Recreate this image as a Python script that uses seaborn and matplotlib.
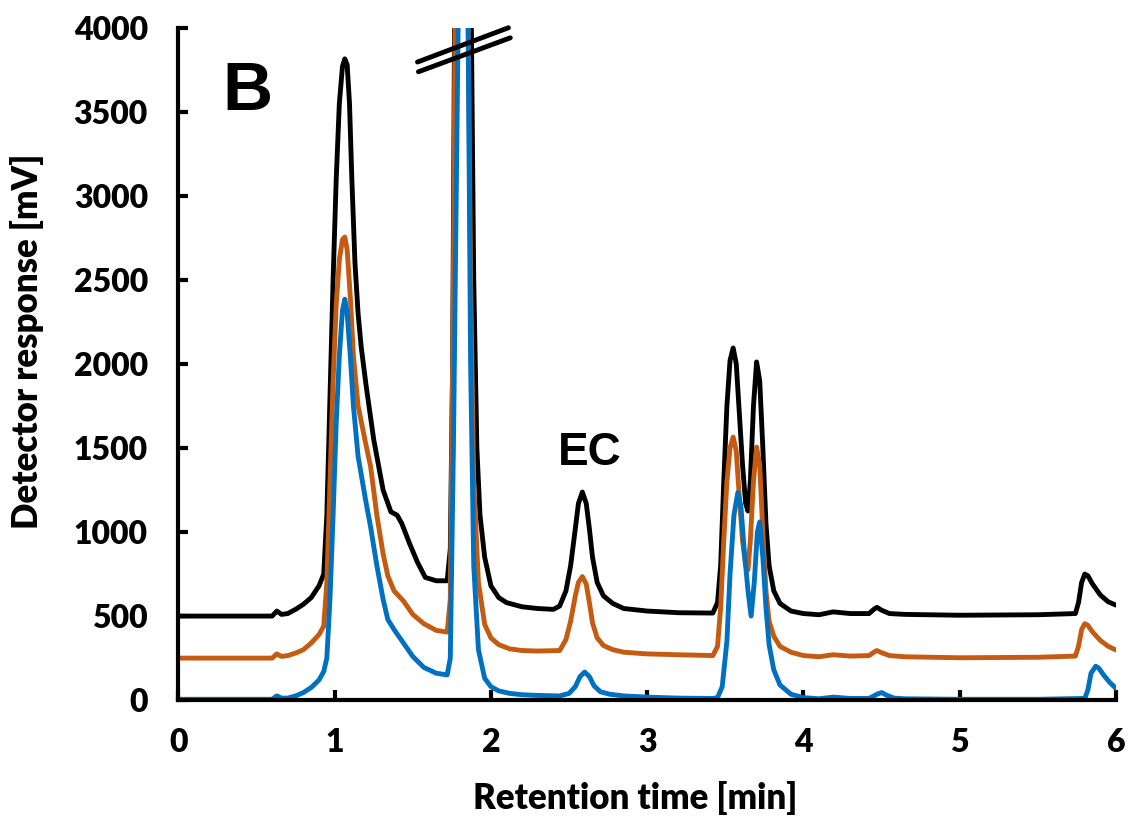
import pandas as pd
import matplotlib.pyplot as plt
import seaborn as sns

sns.set_style("ticks")
plt.rcParams["font.family"] = ["Lato", "DejaVu Sans"]
plt.rcParams["font.weight"] = "heavy"
for k in ["text.color", "axes.labelcolor", "xtick.color", "ytick.color", "axes.edgecolor"]:
    plt.rcParams[k] = "black"
plt.rcParams["axes.linewidth"] = 3

x_ticks = [0, 1, 2, 3, 4, 5, 6]
y_ticks = [0, 500, 1000, 1500, 2000, 2500, 3000, 3500, 4000]

# chromatogram traces (time in min, response in mV)
t_black = [0, 0.60, 0.63, 0.66, 0.70, 0.75, 0.80, 0.85, 0.90, 0.93, 0.95, 0.97, 0.99, 1.01, 1.03,
           1.05, 1.065, 1.08, 1.095, 1.11, 1.13, 1.15, 1.17, 1.20, 1.25, 1.31, 1.36, 1.40, 1.43,
           1.48, 1.53, 1.58, 1.65, 1.72, 1.74, 1.755, 1.77, 1.80, 1.82, 1.85, 1.87, 1.89, 1.91,
           1.93, 1.96, 2.00, 2.05, 2.10, 2.20, 2.30, 2.40, 2.44, 2.48, 2.51, 2.54, 2.56, 2.585,
           2.61, 2.63, 2.65, 2.68, 2.72, 2.78, 2.85, 3.0, 3.2, 3.42, 3.45, 3.47, 3.49, 3.51,
           3.53, 3.55, 3.57, 3.59, 3.61, 3.63, 3.645, 3.66, 3.68, 3.70, 3.72, 3.74, 3.76, 3.78,
           3.81, 3.85, 3.92, 4.0, 4.1, 4.19, 4.3, 4.42, 4.45, 4.47, 4.50, 4.55, 4.65, 5.0,
           5.5, 5.74, 5.76, 5.78, 5.80, 5.82, 5.85, 5.90, 5.95, 6.0]
y_black = [500, 500, 530, 510, 515, 540, 570, 610, 680, 750, 1100, 1800, 2500, 3100, 3550,
           3770, 3815, 3780, 3550, 3100, 2600, 2300, 2100, 1880, 1550, 1250, 1120, 1100, 1050,
           930, 820, 730, 710, 710, 900, 2000, 4500, 8000, 9000, 7000, 4500, 2500, 1500,
           1100, 850, 680, 610, 580, 555, 545, 540, 560, 650, 800, 1020, 1170, 1238,
           1170, 1020, 850, 700, 620, 575, 545, 530, 520, 518, 580, 800, 1300, 1750,
           2020, 2095, 2000, 1700, 1400, 1170, 1125, 1300, 1750, 2012, 1900, 1500, 1050, 800,
           650, 575, 530, 515, 508, 525, 515, 515, 540, 552, 535, 515, 510, 505,
           508, 515, 580, 700, 750, 740, 690, 625, 585, 565]

t_orange = [0, 0.60, 0.63, 0.66, 0.70, 0.75, 0.80, 0.85, 0.90, 0.93, 0.95, 0.97, 0.99, 1.01, 1.03,
            1.05, 1.065, 1.08, 1.10, 1.12, 1.15, 1.20, 1.23, 1.27, 1.31, 1.34, 1.38, 1.44,
            1.50, 1.57, 1.65, 1.72, 1.74, 1.76, 1.78, 1.81, 1.83, 1.85, 1.87, 1.89, 1.92,
            1.96, 2.00, 2.05, 2.12, 2.20, 2.30, 2.44, 2.48, 2.51, 2.54, 2.56, 2.585,
            2.61, 2.63, 2.65, 2.68, 2.72, 2.78, 2.85, 3.0, 3.2, 3.42, 3.45, 3.47, 3.49, 3.51,
            3.53, 3.55, 3.57, 3.59, 3.61, 3.63, 3.645, 3.66, 3.68, 3.70, 3.72, 3.74, 3.76, 3.78,
            3.81, 3.85, 3.92, 4.0, 4.1, 4.19, 4.3, 4.42, 4.45, 4.47, 4.50, 4.55, 4.65, 5.0,
            5.5, 5.74, 5.76, 5.78, 5.80, 5.82, 5.85, 5.90, 5.95, 6.0]
y_orange = [250, 250, 275, 260, 265, 280, 300, 340, 390, 440, 700, 1300, 1900, 2350, 2620,
            2740, 2755, 2680, 2400, 2050, 1750, 1520, 1390, 1100, 870, 740, 650, 590,
            510, 455, 415, 405, 600, 2500, 5500, 9000, 7000, 4500, 2500, 1300, 700,
            450, 370, 330, 305, 295, 292, 295, 360, 470, 620, 700, 735,
            690, 580, 460, 370, 325, 300, 285, 275, 270, 265, 320, 550, 950, 1300,
            1500, 1565, 1480, 1200, 950, 800, 775, 950, 1300, 1505, 1400, 1000, 650, 470,
            380, 320, 285, 265, 258, 270, 262, 265, 285, 295, 282, 265, 258, 252,
            255, 262, 320, 420, 455, 445, 405, 355, 320, 298]

t_blue = [0, 0.60, 0.63, 0.66, 0.70, 0.75, 0.80, 0.85, 0.90, 0.93, 0.95, 0.97, 0.99, 1.01, 1.03,
          1.05, 1.065, 1.08, 1.10, 1.12, 1.15, 1.20, 1.23, 1.27, 1.31, 1.34, 1.38, 1.44,
          1.50, 1.57, 1.65, 1.72, 1.74, 1.76, 1.79, 1.82, 1.85, 1.87, 1.89, 1.92, 1.96,
          2.00, 2.05, 2.12, 2.20, 2.30, 2.44, 2.50, 2.54, 2.57, 2.60, 2.63, 2.66, 2.70,
          2.76, 2.85, 3.0, 3.2, 3.42, 3.45, 3.48, 3.51, 3.53, 3.555, 3.58, 3.60, 3.62, 3.645,
          3.665, 3.685, 3.705, 3.72, 3.74, 3.76, 3.78, 3.81, 3.85, 3.92, 4.0,
          4.1, 4.19, 4.3, 4.42, 4.47, 4.50, 4.53, 4.58, 4.65, 5.0,
          5.5, 5.80, 5.82, 5.84, 5.87, 5.89, 5.92, 5.96, 6.0]
y_blue = [5, 5, 25, 12, 12, 25, 45, 75, 120, 170, 250, 600, 1100, 1650, 2050,
          2320, 2385, 2300, 2050, 1750, 1450, 1180, 1030, 800, 600, 480, 420, 340,
          260, 195, 160, 150, 250, 1500, 4000, 7000, 4500, 2000, 800, 300, 130,
          80, 55, 40, 32, 28, 25, 40, 80, 140, 167, 140, 85, 50,
          35, 25, 18, 12, 10, 15, 80, 350, 750, 1100, 1235, 1150, 900, 650,
          500, 700, 1000, 1060, 850, 550, 330, 180, 90, 35, 15,
          8, 18, 10, 10, 35, 45, 30, 12, 8, 5,
          5, 10, 60, 160, 202, 190, 150, 105, 70]

df = pd.concat([
    pd.DataFrame({"t": t_black, "mV": y_black, "trace": "black"}),
    pd.DataFrame({"t": t_orange, "mV": y_orange, "trace": "orange"}),
    pd.DataFrame({"t": t_blue, "mV": y_blue, "trace": "blue"}),
])
colors = {"black": "#000000", "orange": "#C55A11", "blue": "#0070C0"}

fig = plt.figure(figsize=(11.29, 8.16), dpi=100)
ax = fig.add_axes([0.158, 0.142, 0.8305, 0.824])
sns.lineplot(data=df, x="t", y="mV", hue="trace", palette=colors, sort=False,
             estimator=None, linewidth=3.5, legend=False, ax=ax,
             solid_joinstyle="round", solid_capstyle="round")

ax.set_xlim(0, 6)
ax.set_ylim(0, 4000)
ax.set_xticks(x_ticks)
ax.set_yticks(y_ticks)
ax.set_xticklabels([str(v) for v in x_ticks], fontsize=23, fontweight="heavy")
ax.set_yticklabels([str(v) for v in y_ticks], fontsize=23, fontweight="heavy")
ax.tick_params(axis="both", which="major", direction="in", length=7, width=3,
               color="black", left=True, bottom=True, right=False, top=False)
ax.tick_params(axis="x", pad=20)
ax.tick_params(axis="y", pad=22)
ax.set_xlabel("Retention time [min]", fontsize=25, fontweight="heavy")
ax.set_ylabel("Detector response [mV]", fontsize=25, fontweight="heavy")
ax.xaxis.set_label_coords(0.487, -0.12)
ax.yaxis.set_label_coords(-0.143, 0.533)
ax.spines["top"].set_visible(False)
ax.spines["right"].set_visible(False)

# axis break marker on the off-scale peak
ax.plot([0.255, 0.352], [0.949, 1.0], transform=ax.transAxes, color="black", lw=3.5, clip_on=False)
ax.plot([0.256, 0.354], [0.9345, 0.985], transform=ax.transAxes, color="black", lw=3.5, clip_on=False)

ax.text(0.047, 0.878, "B", transform=ax.transAxes, fontsize=50, fontweight="bold",
        family=["Liberation Sans", "DejaVu Sans"])
ax.text(2.63, 1400, "EC", ha="center", va="baseline", fontsize=33, fontweight="bold",
        family=["Liberation Sans", "DejaVu Sans"])

fig.savefig("out.png", dpi=100)
